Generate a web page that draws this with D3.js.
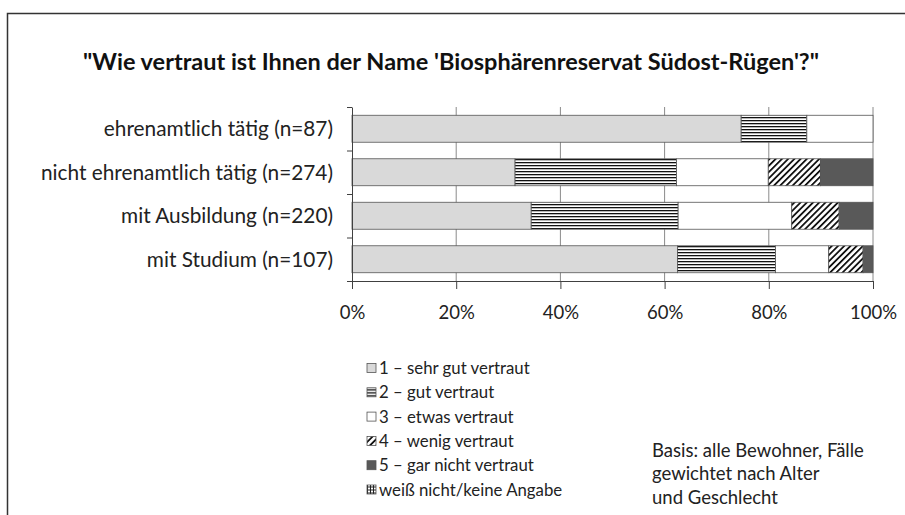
<!DOCTYPE html>
<html>
<head>
<meta charset="utf-8">
<script src="https://cdn.jsdelivr.net/npm/d3@7"></script>
<style>
  body { margin: 0; background: #fff; }
  svg { display: block; font-family: Lato, "Open Sans", sans-serif; }
</style>
</head>
<body>
<svg id="chart"></svg>
<script>
// data (percent of each group)
var groups = ["ehrenamtlich tätig (n=87)", "nicht ehrenamtlich tätig (n=274)", "mit Ausbildung (n=220)", "mit Studium (n=107)"];
var answers = ["1 – sehr gut vertraut", "2 – gut vertraut", "3 – etwas vertraut", "4 – wenig vertraut", "5 – gar nicht vertraut", "weiß nicht/keine Angabe"];
var sehrGut = [74.7, 31.3, 34.4, 62.5];
var gut = [12.6, 31.0, 28.2, 18.8];
var etwas = [12.7, 17.6, 21.8, 10.2];
var wenig = [0, 10.0, 9.1, 6.6];
var garNicht = [0, 10.1, 6.5, 1.9];
var weissNicht = [0, 0, 0, 0];
var xTicks = [0, 0.2, 0.4, 0.6, 0.8, 1];
var title = "\"Wie vertraut ist Ihnen der Name 'Biosphärenreservat Südost-Rügen'?\"";
var basisLines = ["Basis: alle Bewohner, Fälle", "gewichtet nach Alter", "und Geschlecht"];

var W = 905, H = 515;
var svg = d3.select("#chart").attr("width", W).attr("height", H);

/** patterns **/
var defs = svg.append("defs");
var p1 = defs.append("pattern").attr("id", "hlines")
    .attr("patternUnits", "userSpaceOnUse").attr("width", 6).attr("height", 3);
p1.append("rect").attr("width", 6).attr("height", 3).attr("fill", "#fff");
p1.append("rect").attr("y", 0).attr("width", 6).attr("height", 1.3).attr("fill", "#111");

var p2 = defs.append("pattern").attr("id", "diag")
    .attr("patternUnits", "userSpaceOnUse").attr("width", 4.4).attr("height", 4.4)
    .attr("patternTransform", "rotate(45)");
p2.append("rect").attr("width", 4.4).attr("height", 4.4).attr("fill", "#fff");
p2.append("rect").attr("width", 1.8).attr("height", 4.4).attr("fill", "#111");

var p3 = defs.append("pattern").attr("id", "grid")
    .attr("patternUnits", "userSpaceOnUse").attr("width", 3).attr("height", 3);
p3.append("rect").attr("width", 3).attr("height", 3).attr("fill", "#fff");
p3.append("rect").attr("width", 1).attr("height", 3).attr("fill", "#222");
p3.append("rect").attr("width", 3).attr("height", 1).attr("fill", "#222");

var fills = ["#d9d9d9", "url(#hlines)", "#ffffff", "url(#diag)", "#595959", "url(#grid)"];

/** frame **/
svg.append("path")
    .attr("d", "M7.5," + H + "V13.5H" + W)
    .attr("fill", "none").attr("stroke", "#333").attr("stroke-width", 1.5);

/** title **/
svg.append("text")
    .attr("x", 451).attr("y", 70)
    .attr("text-anchor", "middle")
    .style("font-size", "23.5px").style("font-weight", "bold").attr("fill", "#111")
    .text(title);

/** scales **/
var x = d3.scaleLinear().domain([0, 1]).range([352, 873]);
var y = d3.scaleBand().domain(groups).range([107, 281]).paddingInner(0.38).paddingOuter(0.19);
var yEdge = d3.scaleLinear().domain([0, groups.length]).range([107, 281]);

// rows for the stack
var rows = groups.map(function(g, i) {
  return { group: g, a0: sehrGut[i], a1: gut[i], a2: etwas[i], a3: wenig[i], a4: garNicht[i], a5: weissNicht[i] };
});
var keys = ["a0", "a1", "a2", "a3", "a4", "a5"];
var series = d3.stack().keys(keys).offset(d3.stackOffsetExpand)(rows);

/** gridlines **/
svg.append("g").selectAll("line")
    .data(xTicks.slice(1))
    .enter().append("line")
    .attr("x1", function(d) { return x(d); }).attr("x2", function(d) { return x(d); })
    .attr("y1", 107).attr("y2", 281)
    .attr("stroke", "#8a8a8a").attr("stroke-width", 1);

/** bars **/
svg.append("g").selectAll("g")
    .data(series)
    .enter().append("g")
    .attr("fill", function(d, i) { return fills[i]; })
  .selectAll("rect")
    .data(function(d) { return d.filter(function(s) { return s[1] - s[0] > 0; }); })
    .enter().append("rect")
    .attr("x", function(d) { return x(d[0]); })
    .attr("y", function(d) { return y(d.data.group); })
    .attr("width", function(d) { return x(d[1]) - x(d[0]); })
    .attr("height", y.bandwidth())
    .attr("stroke", "#555").attr("stroke-width", 0.8);

/** axes **/
var xAxis = svg.append("g")
    .attr("transform", "translate(0,281)")
    .call(d3.axisBottom(x).tickValues(xTicks).tickFormat(d3.format(".0%")).tickSizeInner(8).tickSizeOuter(0).tickPadding(17));
xAxis.select(".domain").attr("stroke", "#404040");
xAxis.selectAll(".tick line").attr("stroke", "#404040");
xAxis.selectAll("text").style("font-size", "18.5px").style("font-family", "Lato, sans-serif").attr("fill", "#222");

var yAxis = svg.append("g")
    .attr("transform", "translate(352,0)")
    .call(d3.axisLeft(yEdge).tickValues(d3.range(groups.length + 1)).tickFormat("").tickSizeInner(5).tickSizeOuter(0));
yAxis.select(".domain").attr("stroke", "#404040");
yAxis.selectAll(".tick line").attr("stroke", "#404040");

svg.append("g").selectAll("text")
    .data(groups)
    .enter().append("text")
    .attr("x", 333)
    .attr("y", function(d) { return y(d) + y.bandwidth() / 2; })
    .attr("dy", "0.36em")
    .attr("text-anchor", "end")
    .style("font-size", "20.8px").attr("fill", "#222")
    .text(function(d) { return d; });

/** legend **/
var legend = svg.append("g").selectAll("g")
    .data(answers)
    .enter().append("g")
    .attr("transform", function(d, i) { return "translate(367," + (368 + i * 24.3) + ")"; });
legend.append("rect")
    .attr("x", 0).attr("y", -4.5).attr("width", 9).attr("height", 9)
    .attr("fill", function(d, i) { return fills[i]; })
    .attr("stroke", "#555").attr("stroke-width", 0.8);
legend.append("text")
    .attr("x", 12).attr("dy", "0.36em")
    .style("font-size", "16.8px").attr("fill", "#222")
    .text(function(d) { return d; });

/** basis note **/
svg.append("g").selectAll("text")
    .data(basisLines)
    .enter().append("text")
    .attr("x", 652)
    .attr("y", function(d, i) { return 450 + i * 23.7; })
    .attr("dy", "0.36em")
    .style("font-size", "18.5px").attr("fill", "#222")
    .text(function(d) { return d; });
</script>
</body>
</html>
